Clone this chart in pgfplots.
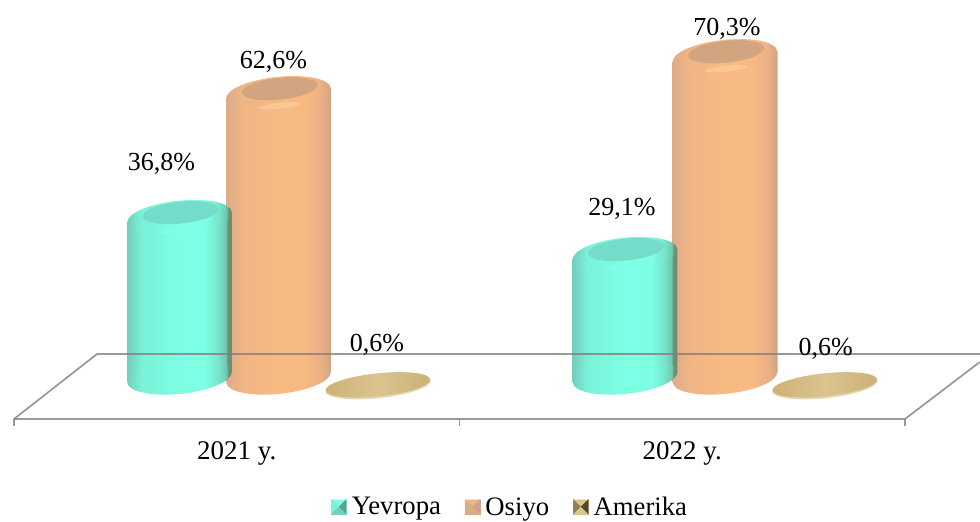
\documentclass[border=0pt]{standalone}
\usepackage{pgfplots}
\usepackage{pgfplotstable}
\usepackage{fontspec}
\setmainfont{Liberation Serif}
\pgfplotsset{compat=1.18}

\definecolor{tA}{HTML}{72CDBB}\definecolor{tB}{HTML}{79F2D9}\definecolor{tC}{HTML}{7DFFE4}
\definecolor{tD}{HTML}{78E8CF}\definecolor{tE}{HTML}{70C8B2}\definecolor{tF}{HTML}{6B8F72}
\definecolor{tI}{HTML}{74DCC8}\definecolor{tR}{HTML}{7DFFEC}
\definecolor{oA}{HTML}{DCAC87}\definecolor{oB}{HTML}{F0B585}\definecolor{oC}{HTML}{F8BA83}
\definecolor{oD}{HTML}{EBB185}\definecolor{oE}{HTML}{CFA383}
\definecolor{oI}{HTML}{D2A580}\definecolor{oR}{HTML}{FBC795}
\definecolor{dA}{HTML}{CDB276}\definecolor{dB}{HTML}{DAC48E}\definecolor{dC}{HTML}{CBB176}
\definecolor{floor}{HTML}{808080}

\pgfdeclarehorizontalshading{tealcyl}{100bp}{color(0bp)=(tA);color(25bp)=(tA);color(32bp)=(tB);color(50bp)=(tC);color(62bp)=(tC);color(68bp)=(tD);color(72bp)=(tE);color(73bp)=(tF);color(75bp)=(tF);color(100bp)=(tF)}
\pgfdeclarehorizontalshading{orangecyl}{100bp}{color(0bp)=(oA);color(25bp)=(oA);color(33bp)=(oB);color(50bp)=(oC);color(62bp)=(oC);color(70bp)=(oD);color(75bp)=(oE);color(100bp)=(oE)}
\pgfdeclarehorizontalshading{disccyl}{100bp}{color(0bp)=(dA);color(25bp)=(dA);color(50bp)=(dB);color(75bp)=(dC);color(100bp)=(dC)}

% rotated ellipses: 1 px = 0.75 pt, tilt 6 degrees
\newcommand{\rotell}[4]{% x offset, y offset, a, b (pt)
  \pgfpathellipse{\pgfpoint{#1pt}{#2pt}}{\pgfpoint{0.9945*#3pt}{0.1045*#3pt}}{\pgfpoint{-0.1045*#4pt}{0.9945*#4pt}}}
\newcommand{\declcaps}[4]{% name, shading, rim, inner
  \pgfdeclareplotmark{captop#1}{%
    \rotell{0}{0}{39.4}{12.5}\pgfshadepath{#2}{0}\pgfusepath{discard}%
    \pgfsetfillcolor{#3}\rotell{0.8}{-9.2}{16}{2.2}\pgfusepath{fill}%
    \pgfsetfillcolor{#4}\rotell{0.8}{3.6}{28.5}{8.2}\pgfusepath{fill}}%
  \pgfdeclareplotmark{capbot#1}{%
    \rotell{0}{0}{39.4}{12.5}\pgfshadepath{#2}{0}\pgfusepath{discard}}}
\declcaps{O}{orangecyl}{oR}{oI}
\declcaps{T}{tealcyl}{tR}{tI}
\pgfdeclareplotmark{disc}{%
  \pgfsetfillcolor{dB!70!white}\rotell{0}{3.9}{39.7}{9.2}\pgfusepath{fill}%
  \rotell{0}{4.7}{39.4}{8.6}\pgfshadepath{disccyl}{0}\pgfusepath{discard}}

\pgfplotstableread{
x y dx dy
0.3715 36.8 -18 53
1.3715 29.1 -3 45
}\teal
\pgfplotstableread{
x y dx dy
0.5937 62.6 -5 31.5
1.596 70.3 2 27.6
}\osiyo
\pgfplotstableread{
x y dx dy
0.817 0.6 -1 46
1.820 0.6 1 42
}\amerika

\pgfplotsset{
  vallabel/.style={
    visualization depends on={\thisrow{dx}*0.75 \as \ldx},
    visualization depends on={\thisrow{dy}*0.75 \as \ldy},
    nodes near coords={\pgfmathprintnumber[fixed,fixed zerofill,precision=1,use comma,assume math mode=true]{\pgfplotspointmeta}\%},
    nodes near coords style={anchor=center,text=black,xshift=\ldx pt,yshift=\ldy pt,inner sep=0pt},
    point meta=y},
  floorline/.style={floor,opacity=0.8,line width=1.3pt,forget plot},
}
\begin{document}
\begin{tikzpicture}[font=\fontsize{19.5}{22}\selectfont]
\path[use as bounding box] (0,0) rectangle (735pt,390.75pt);
\begin{axis}[
  at={(10.5pt,76.5pt)},anchor=south west,
  scale only axis,width=668.25pt,height=314.25pt,
  xmin=0,xmax=2,ymin=-5.208,ymax=82.08,
  clip=false,
  axis y line=none,axis x line*=bottom,
  axis line style={floor,opacity=0.8,line width=1.3pt},
  xtick={0,1,2},xticklabels={2021 y.,2022 y.},
  x tick label as interval,
  tick align=outside,major tick length=5pt,
  tick style={floor,opacity=0.8,line width=1pt},
  xticklabel style={yshift=-8.5pt,text=black,font=\fontsize{20.2}{22}\selectfont},
  /pgf/number format/assume math mode=true,
  legend style={at={(0.5572,-0.2105)},anchor=center,draw=none,fill=none,
    legend columns=-1,inner sep=0pt,font=\fontsize{20}{22}\selectfont,
    /tikz/every even column/.append style={column sep=16pt},
    legend cell align=left},
]
% Osiyo
\addplot[draw=none,shading=orangecyl,forget plot] coordinates {(0.4759,2.5)(0.4759,61.6)(0.7115,63.6)(0.7115,4.5)} -- cycle;
\addplot[draw=none,shading=orangecyl,forget plot] coordinates {(1.4782,2.5)(1.4782,69.3)(1.7138,71.3)(1.7138,4.5)} -- cycle;
\addplot[only marks,mark=capbotO,forget plot] coordinates {(0.5937,3.5)(1.596,3.5)};
\addplot[only marks,mark=captopO,forget plot,vallabel] table[x=x,y=y] {\osiyo};
% Yevropa
\addplot[draw=none,shading=tealcyl,forget plot] coordinates {(0.2537,2.5)(0.2537,35.8)(0.4893,37.8)(0.4893,4.5)} -- cycle;
\addplot[draw=none,shading=tealcyl,forget plot] coordinates {(1.2537,2.5)(1.2537,28.1)(1.4893,30.1)(1.4893,4.5)} -- cycle;
\addplot[only marks,mark=capbotT,forget plot] coordinates {(0.3715,3.5)(1.3715,3.5)};
\addplot[only marks,mark=captopT,forget plot,vallabel] table[x=x,y=y] {\teal};
% floor of the chart
\addplot[floorline] coordinates {(0,-5.208)(0.1863,8.33)(2.168,8.33)};
\addplot[floorline] coordinates {(2,-5.208)(2.168,6.67)};
% Amerika
\addplot[only marks,mark=disc,forget plot,vallabel] table[x=x,y=y] {\amerika};
% legend
\addlegendimage{legend image code/.code={
  \fill[tC!95!white] (0,-5.5pt) rectangle (11pt,5.5pt);
  \fill[tC] (0,5.5pt)--(11pt,5.5pt)--(5.5pt,0)--cycle;
  \fill[tB] (0,5.5pt)--(0,-5.5pt)--(5.5pt,0)--cycle;
  \fill[tE!80!black] (11pt,5.5pt)--(11pt,-5.5pt)--(5.5pt,0)--cycle;
  \fill[tA] (0,-5.5pt)--(11pt,-5.5pt)--(5.5pt,0)--cycle;
  \path[draw=none] (11pt,0)--(13.2pt,0);}}
\addlegendentry{Yevropa}
\addlegendimage{legend image code/.code={
  \fill[oE] (0,-5.5pt) rectangle (11pt,5.5pt);
  \fill[oB] (0,5.5pt)--(11pt,5.5pt)--(5.5pt,0)--cycle;
  \fill[oA] (0,5.5pt)--(0,-5.5pt)--(5.5pt,0)--cycle;
  \fill[oE] (11pt,5.5pt)--(11pt,-5.5pt)--(5.5pt,0)--cycle;
  \fill[oA] (0,-5.5pt)--(11pt,-5.5pt)--(5.5pt,0)--cycle;
  \path[draw=none] (11pt,0)--(13.2pt,0);}}
\addlegendentry{Osiyo}
\addlegendimage{legend image code/.code={
  \fill[dA] (0,-5.5pt) rectangle (11pt,5.5pt);
  \fill[dB] (0,5.5pt)--(11pt,5.5pt)--(5.5pt,0)--cycle;
  \fill[dA!70!black] (0,5.5pt)--(0,-5.5pt)--(5.5pt,0)--cycle;
  \fill[dA!40!black] (11pt,5.5pt)--(11pt,-5.5pt)--(5.5pt,0)--cycle;
  \fill[dB] (0,-5.5pt)--(11pt,-5.5pt)--(5.5pt,0)--cycle;
  \path[draw=none] (11pt,0)--(13.2pt,0);}}
\addlegendentry{Amerika}
\end{axis}
\end{tikzpicture}
\end{document}
